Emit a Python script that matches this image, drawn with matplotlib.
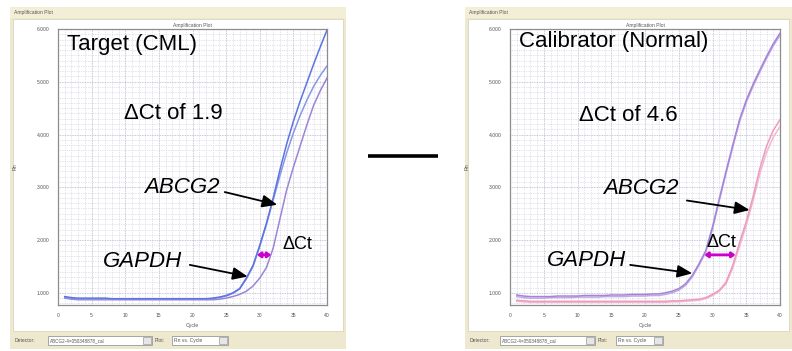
import matplotlib
matplotlib.use("Agg")
import matplotlib.pyplot as plt
from matplotlib.patches import Rectangle
from matplotlib.lines import Line2D
from matplotlib.ticker import MultipleLocator

# ---------------- data ----------------
cycles = list(range(1, 41))

# Target (CML) sample
target_gapdh_a = [0.93, 0.91, 0.90, 0.90, 0.90, 0.90, 0.90, 0.89, 0.89, 0.89,
                  0.89, 0.89, 0.89, 0.89, 0.89, 0.89, 0.89, 0.89, 0.89, 0.89,
                  0.89, 0.89, 0.90, 0.92, 0.95, 1.00, 1.08, 1.28, 1.52, 1.90,
                  2.32, 2.80, 3.33, 3.82, 4.25, 4.63, 4.98, 5.33, 5.66, 5.98]
target_gapdh_b = [0.91, 0.89, 0.88, 0.88, 0.88, 0.88, 0.88, 0.88, 0.88, 0.88,
                  0.88, 0.88, 0.88, 0.88, 0.88, 0.88, 0.88, 0.88, 0.88, 0.88,
                  0.88, 0.88, 0.89, 0.91, 0.94, 0.99, 1.07, 1.26, 1.50, 1.88,
                  2.30, 2.76, 3.22, 3.65, 4.03, 4.36, 4.65, 4.91, 5.12, 5.30]
target_abcg2 = [0.90, 0.88, 0.87, 0.87, 0.87, 0.87, 0.87, 0.87, 0.87, 0.87,
                0.87, 0.87, 0.87, 0.87, 0.87, 0.87, 0.87, 0.87, 0.87, 0.87,
                0.87, 0.87, 0.87, 0.88, 0.90, 0.93, 0.97, 1.03, 1.13, 1.28,
                1.48, 1.85, 2.40, 2.95, 3.38, 3.78, 4.18, 4.55, 4.83, 5.07]

# Calibrator (Normal) sample
calib_gapdh_a = [0.96, 0.94, 0.93, 0.93, 0.93, 0.93, 0.94, 0.94, 0.94, 0.94,
                 0.95, 0.95, 0.95, 0.95, 0.96, 0.96, 0.96, 0.97, 0.97, 0.97,
                 0.98, 0.98, 1.00, 1.03, 1.08, 1.17, 1.33, 1.55, 1.80, 2.25,
                 2.78, 3.30, 3.80, 4.28, 4.65, 4.95, 5.22, 5.48, 5.72, 5.92]
calib_gapdh_b = [0.93, 0.91, 0.90, 0.90, 0.90, 0.91, 0.91, 0.91, 0.91, 0.92,
                 0.92, 0.92, 0.92, 0.93, 0.93, 0.93, 0.93, 0.94, 0.94, 0.94,
                 0.95, 0.95, 0.97, 1.00, 1.05, 1.14, 1.30, 1.52, 1.77, 2.21,
                 2.74, 3.26, 3.76, 4.24, 4.61, 4.91, 5.18, 5.44, 5.68, 5.88]
calib_abcg2_a = [0.86, 0.85, 0.84, 0.84, 0.84, 0.84, 0.84, 0.84, 0.84, 0.84,
                 0.84, 0.84, 0.84, 0.84, 0.84, 0.84, 0.84, 0.84, 0.84, 0.84,
                 0.84, 0.84, 0.84, 0.85, 0.85, 0.86, 0.87, 0.88, 0.91, 0.97,
                 1.05, 1.20, 1.52, 1.95, 2.35, 2.82, 3.35, 3.78, 4.08, 4.28]
calib_abcg2_b = [0.84, 0.83, 0.82, 0.82, 0.82, 0.82, 0.82, 0.82, 0.82, 0.82,
                 0.82, 0.82, 0.82, 0.82, 0.82, 0.82, 0.82, 0.82, 0.82, 0.82,
                 0.82, 0.82, 0.82, 0.83, 0.83, 0.84, 0.85, 0.86, 0.89, 0.95,
                 1.03, 1.17, 1.47, 1.88, 2.28, 2.74, 3.25, 3.66, 3.95, 4.15]

x_ticks = [0, 5, 10, 15, 20, 25, 30, 35, 40]
x_tick_labels = ["0", "5", "10", "15", "20", "25", "30", "35", "40"]
y_ticks = [1, 2, 3, 4, 5, 6]
y_tick_labels = ["1.000", "2.000", "3.000", "4.000", "5.000", "6.000"]

# threshold-crossing cycles used for the ΔCt arrows
target_ct = (29.6, 31.7)     # ΔCt of 1.9
calib_ct = (28.8, 33.4)      # ΔCt of 4.6
threshold = 1.72

# ---------------- figure ----------------
W, H = 792, 351
fig = plt.figure(figsize=(W / 100, H / 100), dpi=100)
fig.patch.set_facecolor("white")

BEIGE = "#eee8cf"
STRIP = "#f3eed6"
TXT = "#555555"
SANS = ["Liberation Sans", "DejaVu Sans"]


def px_rect(x0, y0, x1, y1, **kw):
    fig.add_artist(Rectangle((x0 / W, 1 - y1 / H), (x1 - x0) / W, (y1 - y0) / H,
                             transform=fig.transFigure, **kw))


def px_text(x, y, s, **kw):
    fig.text(x / W, 1 - y / H, s, **kw)


def window(x0, x1, det_box, plot_box):
    # frame, title strip, white client area, control strip
    px_rect(x0, 7, x1, 349, facecolor=BEIGE, edgecolor="none", zorder=0)
    px_rect(x0, 7, x1, 18, facecolor=STRIP, edgecolor="none", zorder=0)
    px_rect(x0 + 3, 19, x1 - 3, 331, facecolor="white", edgecolor="#d8d4c0",
            linewidth=0.6, zorder=0)
    px_text(x0 + 4, 12.5, "Amplification Plot", fontsize=3.6, color=TXT,
            va="center", ha="left", family=SANS)
    # controls
    px_text(x0 + 5, 340, "Detector:", fontsize=3.6, color=TXT, va="center",
            ha="left", family=SANS)
    bx0, bx1 = det_box
    px_rect(bx0, 336, bx1, 345, facecolor="white", edgecolor="#999999",
            linewidth=0.6, zorder=1)
    px_rect(bx1 - 9, 337, bx1 - 1, 344, facecolor="#e6e6e6", edgecolor="#999999",
            linewidth=0.5, zorder=2)
    px_text(bx0 + 2, 340.5, "ABCG2-4\u00d7050348878_cal", fontsize=3.3,
            color=TXT, va="center", ha="left", family=SANS)
    px_text(bx1 + 3, 340, "Plot:", fontsize=3.6, color=TXT, va="center",
            ha="left", family=SANS)
    px0, px1 = plot_box
    px_rect(px0, 336, px1, 345, facecolor="white", edgecolor="#999999",
            linewidth=0.6, zorder=1)
    px_rect(px1 - 9, 337, px1 - 1, 344, facecolor="#e6e6e6", edgecolor="#999999",
            linewidth=0.5, zorder=2)
    px_text(px0 + 2, 340.5, "Rn vs. Cycle", fontsize=3.6, color=TXT,
            va="center", ha="left", family=SANS)


window(10, 346, (48, 152), (172, 228))
window(465, 792, (500, 595), (616, 663))


def make_axes(x0, x1):
    y0, y1 = 29, 305
    ax = fig.add_axes([x0 / W, 1 - y1 / H, (x1 - x0) / W, (y1 - y0) / H])
    ax.set_xlim(0, 40)
    ax.set_ylim(0.77, 6.0)
    ax.set_xticks(x_ticks)
    ax.set_xticklabels(x_tick_labels)
    ax.set_yticks(y_ticks)
    ax.set_yticklabels(y_tick_labels)
    ax.xaxis.set_minor_locator(MultipleLocator(1))
    ax.yaxis.set_minor_locator(MultipleLocator(0.1))
    ax.grid(which="minor", color="#c9c9dc", linestyle=(0, (1, 1.5)), linewidth=0.5)
    ax.grid(which="major", color="#b4b4cc", linestyle=(0, (1, 1)), linewidth=0.6)
    ax.set_axisbelow(True)
    ax.tick_params(which="both", length=0, labelsize=3.6, labelcolor=TXT, pad=6)
    for s in ax.spines.values():
        s.set_color("#8c8c8c")
        s.set_linewidth(0.9)
    ax.set_xlabel("Cycle", fontsize=3.8, color=TXT, labelpad=3, family=SANS)
    ax.set_ylabel("Rn", fontsize=3.8, color=TXT, labelpad=14, family=SANS)
    ax.set_title("Amplification Plot", fontsize=3.6, color=TXT, pad=1.5,
                 family=SANS)
    for lab in ax.get_xticklabels() + ax.get_yticklabels():
        lab.set_family(SANS)
    return ax


def arrow(ax, tail, head):
    ax.annotate("", xy=head, xytext=tail,
                arrowprops=dict(arrowstyle="-|>,head_length=0.9,head_width=0.38",
                                color="black", lw=1.3, shrinkA=0, shrinkB=0),
                zorder=6)


def dct_arrow(ax, x0, x1, y):
    ax.annotate("", xy=(x1, y), xytext=(x0, y),
                arrowprops=dict(arrowstyle="<|-|>,head_length=0.2,head_width=0.15",
                                color="#cc00cc", lw=2.0, shrinkA=0, shrinkB=0),
                zorder=6)


big = dict(fontsize=16, family=SANS, color="black", zorder=7)

# ---- Target (CML) ----
axL = make_axes(58, 327)
axL.plot(cycles, target_abcg2, color="#9c84d6", lw=1.1, zorder=3)
axL.plot(cycles, target_gapdh_b, color="#8a96e6", lw=1.1, zorder=3)
axL.plot(cycles, target_gapdh_a, color="#5c74e0", lw=1.1, zorder=4)
axL.text(1.4, 5.70, "Target (CML)", ha="left", va="center", **big)
axL.text(17.2, 4.39, "\u0394Ct of 1.9", ha="center", va="center", **big)
axL.text(18.4, 3.00, "ABCG2", ha="center", va="center", style="italic", **big)
axL.text(12.5, 1.59, "GAPDH", ha="center", va="center", style="italic", **big)
axL.text(35.6, 1.91, "\u0394Ct", ha="center", va="center", fontsize=13,
         family=SANS, zorder=7)
arrow(axL, (24.8, 2.91), (32.6, 2.67))
arrow(axL, (19.6, 1.53), (28.2, 1.31))
dct_arrow(axL, target_ct[0], target_ct[1], threshold)

# ---- Calibrator (Normal) ----
axR = make_axes(510, 780)
axR.plot(cycles, calib_abcg2_b, color="#f2b8cf", lw=1.1, zorder=3)
axR.plot(cycles, calib_abcg2_a, color="#ee9cbd", lw=1.1, zorder=3)
axR.plot(cycles, calib_gapdh_b, color="#c2a8e4", lw=1.1, zorder=3)
axR.plot(cycles, calib_gapdh_a, color="#a484d8", lw=1.1, zorder=4)
axR.text(1.4, 5.76, "Calibrator (Normal)", ha="left", va="center", **big)
axR.text(17.5, 4.36, "\u0394Ct of 4.6", ha="center", va="center", **big)
axR.text(19.4, 2.98, "ABCG2", ha="center", va="center", style="italic", **big)
axR.text(11.3, 1.61, "GAPDH", ha="center", va="center", style="italic", **big)
axR.text(31.3, 1.95, "\u0394Ct", ha="center", va="center", fontsize=13,
         family=SANS, zorder=7)
arrow(axR, (26.2, 2.75), (35.5, 2.57))
arrow(axR, (17.8, 1.53), (27.0, 1.37))
dct_arrow(axR, calib_ct[0], calib_ct[1], threshold)

# minus sign between the two panels
fig.add_artist(Line2D([368 / W, 438 / W], [1 - 156 / H, 1 - 156 / H],
                      transform=fig.transFigure, color="black", lw=2.6,
                      solid_capstyle="butt"))

fig.savefig("out.png", dpi=100)
